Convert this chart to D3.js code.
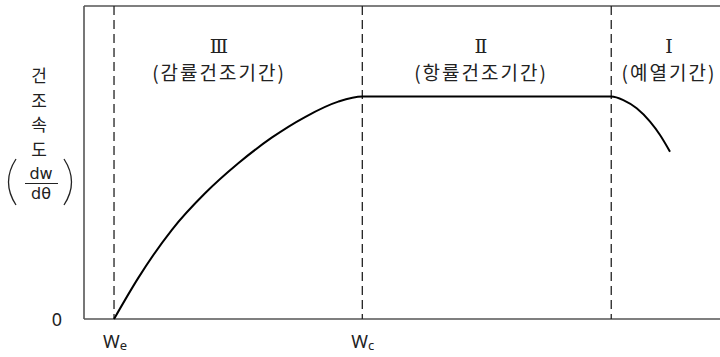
<!DOCTYPE html>
<html>
<head>
<meta charset="utf-8">
<script src="https://cdn.jsdelivr.net/npm/d3@7"></script>
<style>
  body { margin: 0; background: #fff; }
  text { fill: #222; }
  .kr { font-family: "Noto Sans CJK KR", "Noto Sans", sans-serif; }
  .lat { font-family: "Noto Sans", "DejaVu Sans", sans-serif; }
  .frac { font-family: "DejaVu Sans", sans-serif; }
  .roman { font-family: "DejaVu Serif", "Liberation Serif", serif; }
</style>
</head>
<body>
<div class="chart"></div>
<script>
// moisture content (x) and drying rate (y)
var moisture = [4.72, 8.54, 13.79, 19.03, 24.26, 29.51, 34.75, 39.98, 43.76, 82.9, 84.8, 86.9, 89.0, 90.57, 92.14];
var dryingRate = [0, 0.185, 0.40, 0.565, 0.70, 0.815, 0.908, 0.977, 1.0, 1.0, 0.984, 0.947, 0.887, 0.827, 0.752];

// period boundaries (We, Wc, end of preheating)
var boundaries = [4.72, 43.76, 82.9];
var boundaryNames = ["W", "W", ""];
var boundarySubs = ["e", "c", ""];

var periodNumerals = ["Ⅲ", "Ⅱ", "Ⅰ"];
var periodNames = ["(감률건조기간)", "(항률건조기간)", "(예열기간)"];

var yTickValues = [0];
var yTitleChars = ["건", "조", "속", "도"];

var svgWidth = 720;
var svgHeight = 357;

var margin = {
  top: 6,
  right: 0,
  bottom: 38,
  left: 84
};

var width = svgWidth - margin.left - margin.right;
var height = svgHeight - margin.top - margin.bottom;

var svg = d3.select(".chart")
  .append("svg")
  .attr("width", svgWidth)
  .attr("height", svgHeight);

var chartGroup = svg.append("g")
  .attr("transform", `translate(${margin.left}, ${margin.top})`);

// scales
var xScale = d3.scaleLinear()
  .domain([0, 100])
  .range([0, width]);

var yScale = d3.scaleLinear()
  .domain([0, 1.407])
  .range([height, 0]);

// frame: left, bottom and top lines (no right side)
var frameColor = "#555";
chartGroup.append("line")
  .attr("x1", 0).attr("x2", 0)
  .attr("y1", 0).attr("y2", height)
  .attr("stroke", frameColor).attr("stroke-width", 1.6);
chartGroup.append("line")
  .attr("x1", 0).attr("x2", width)
  .attr("y1", height).attr("y2", height)
  .attr("stroke", frameColor).attr("stroke-width", 1.6);
chartGroup.append("line")
  .attr("x1", 0).attr("x2", width)
  .attr("y1", 0).attr("y2", 0)
  .attr("stroke", frameColor).attr("stroke-width", 1.6);

// dashed period boundaries
chartGroup.selectAll(".boundary")
  .data(boundaries)
  .enter()
  .append("line")
  .attr("class", "boundary")
  .attr("x1", d => xScale(d)).attr("x2", d => xScale(d))
  .attr("y1", 0).attr("y2", height)
  .attr("stroke", "#222")
  .attr("stroke-width", 1.3)
  .attr("stroke-dasharray", "9,5");

// drying rate curve
var points = moisture.map((m, i) => [m, dryingRate[i]]);
var line = d3.line()
  .x(d => xScale(d[0]))
  .y(d => yScale(d[1]))
  .curve(d3.curveMonotoneX);

chartGroup.append("path")
  .datum(points)
  .attr("d", line)
  .attr("fill", "none")
  .attr("stroke", "#000")
  .attr("stroke-width", 2);

// period labels
var labelX = [219, 481, 669];
periodNumerals.forEach(function(n, i) {
  svg.append("text")
    .attr("class", "roman")
    .attr("x", labelX[i])
    .attr("y", 53)
    .attr("text-anchor", "middle")
    .attr("font-size", 19)
    .text(n);
  svg.append("text")
    .attr("class", "kr")
    .attr("x", labelX[i])
    .attr("y", 80)
    .attr("text-anchor", "middle")
    .attr("font-size", 19)
    .attr("letter-spacing", 2)
    .text(periodNames[i]);
});

// x labels We, Wc
boundaries.forEach(function(b, i) {
  if (!boundaryNames[i]) return;
  var t = svg.append("text")
    .attr("class", "lat")
    .attr("x", margin.left + xScale(b) - 11)
    .attr("y", margin.top + height + 29)
    .attr("font-size", 18);
  t.append("tspan").text(boundaryNames[i]);
  t.append("tspan").attr("font-size", 13).attr("dy", 2).text(boundarySubs[i]);
});

// y tick "0"
svg.selectAll(".ytick")
  .data(yTickValues)
  .enter()
  .append("text")
  .attr("class", "lat ytick")
  .attr("x", 57)
  .attr("y", d => margin.top + yScale(d) + 7)
  .attr("text-anchor", "middle")
  .attr("font-size", 18)
  .text(d => d);

// y title: 건조속도 (dw/dθ)
svg.selectAll(".ytitle")
  .data(yTitleChars)
  .enter()
  .append("text")
  .attr("class", "kr ytitle")
  .attr("x", 39)
  .attr("y", (d, i) => 82 + i * 24.5)
  .attr("text-anchor", "middle")
  .attr("font-size", 17)
  .text(d => d);

svg.append("text")
  .attr("class", "frac")
  .attr("x", 41).attr("y", 179)
  .attr("text-anchor", "middle")
  .attr("font-size", 16)
  .text("dw");
svg.append("line")
  .attr("x1", 25).attr("x2", 58)
  .attr("y1", 183.5).attr("y2", 183.5)
  .attr("stroke", "#222").attr("stroke-width", 1.2);
svg.append("text")
  .attr("class", "frac")
  .attr("x", 41).attr("y", 199)
  .attr("text-anchor", "middle")
  .attr("font-size", 16)
  .text("dθ");

// large brackets around the fraction
svg.append("path")
  .attr("d", "M16,159 Q1,182 16,205")
  .attr("fill", "none").attr("stroke", "#222").attr("stroke-width", 1.3);
svg.append("path")
  .attr("d", "M64,159 Q79,182 64,205")
  .attr("fill", "none").attr("stroke", "#222").attr("stroke-width", 1.3);
</script>
</body>
</html>
